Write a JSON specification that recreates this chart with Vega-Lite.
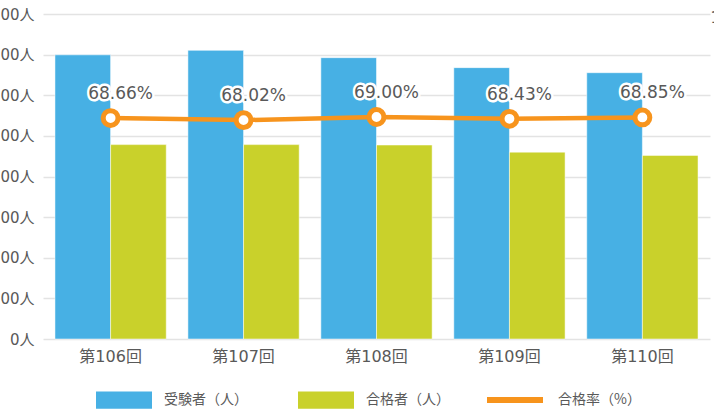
{
  "$schema": "https://vega.github.io/schema/vega-lite/v6.json",
  "width": 667,
  "height": 325,
  "autosize": {"type": "none"},
  "padding": {"left": 43, "top": 14, "right": 4, "bottom": 72},
  "background": "white",
  "config": {
    "view": {"stroke": null},
    "font": "DejaVu Sans, Noto Sans CJK JP",
    "axis": {
      "labelFont": "DejaVu Sans, Noto Sans CJK JP",
      "labelColor": "#595959",
      "labelFontSize": 15,
      "domain": false,
      "ticks": false,
      "title": null,
      "gridColor": "#e3e3e3",
      "gridWidth": 1.5
    },
    "legend": {
      "labelFont": "Noto Sans CJK JP",
      "labelFontSize": 14,
      "labelColor": "#595959",
      "title": null,
      "orient": "none",
      "direction": "horizontal",
      "symbolSize": 3136,
      "labelOffset": 12,
      "columnPadding": 50
    }
  },
  "data": {
    "values": [
      {"回": "第106回", "受験者（人）": 13990, "合格者（人）": 9570, "合格率": 0.6866},
      {"回": "第107回", "受験者（人）": 14210, "合格者（人）": 9570, "合格率": 0.6802},
      {"回": "第108回", "受験者（人）": 13850, "合格者（人）": 9550, "合格率": 0.69},
      {"回": "第109回", "受験者（人）": 13360, "合格者（人）": 9200, "合格率": 0.6843},
      {"回": "第110回", "受験者（人）": 13110, "合格者（人）": 9040, "合格率": 0.6885}
    ]
  },
  "encoding": {
    "x": {
      "field": "回",
      "type": "nominal",
      "sort": null,
      "scale": {"paddingInner": 0.163, "paddingOuter": 0.09},
      "axis": {"labelAngle": 0, "labelPadding": 9, "labelFontSize": 16, "grid": false}
    }
  },
  "layer": [
    {
      "transform": [{"fold": ["受験者（人）", "合格者（人）"], "as": ["系列", "人数"]}],
      "mark": {"type": "bar", "stroke": "white", "strokeWidth": 1, "strokeOpacity": 0.5},
      "encoding": {
        "xOffset": {"field": "系列", "type": "nominal", "scale": {"domain": ["受験者（人）", "合格者（人）"]}},
        "y": {
          "field": "人数",
          "type": "quantitative",
          "scale": {"domain": [0, 16000]},
          "axis": {
            "values": [0, 2000, 4000, 6000, 8000, 10000, 12000, 14000, 16000],
            "labelExpr": "format(datum.value, ',') + '人'",
            "labelPadding": 9,
            "grid": true
          }
        },
        "color": {
          "field": "系列",
          "type": "nominal",
          "scale": {
            "domain": ["受験者（人）", "合格者（人）"],
            "range": ["#47b0e4", "#c9d12b"]
          },
          "legend": {
            "legendX": 53,
            "legendY": 358,
            "symbolType": "M-1,-0.31H1V0.31H-1Z",
            "symbolStrokeWidth": 0,
            "symbolOpacity": 1
          }
        }
      }
    },
    {
      "encoding": {
        "y": {
          "field": "合格率",
          "type": "quantitative",
          "scale": {"domain": [0, 1.01]},
          "axis": {"orient": "right", "values": [1], "format": ".0%", "grid": false, "labelPadding": 0}
        }
      },
      "layer": [
        {
          "mark": {"type": "line", "strokeWidth": 4.5},
          "encoding": {
            "stroke": {
              "datum": "合格率（%）",
              "type": "nominal",
              "scale": {"domain": ["合格率（%）"], "range": ["#f7941d"]},
              "legend": {
                "legendX": 441,
                "legendY": 355,
                "symbolType": "stroke",
                "symbolStrokeWidth": 6
              }
            }
          }
        },
        {"mark": {"type": "point", "shape": "circle", "filled": true, "fill": "white", "stroke": "#f7941d", "strokeWidth": 5, "size": 220, "opacity": 1}},
        {
          "mark": {"type": "text", "dx": 10, "dy": -24, "fontSize": 17, "font": "DejaVu Sans", "color": "white", "stroke": "white", "strokeWidth": 5, "strokeJoin": "round"},
          "encoding": {"text": {"field": "合格率", "type": "quantitative", "format": ".2%"}}
        },
        {
          "mark": {"type": "text", "dx": 10, "dy": -24, "fontSize": 17, "font": "DejaVu Sans", "color": "#595959"},
          "encoding": {"text": {"field": "合格率", "type": "quantitative", "format": ".2%"}}
        }
      ]
    }
  ],
  "resolve": {"scale": {"y": "independent"}}
}
